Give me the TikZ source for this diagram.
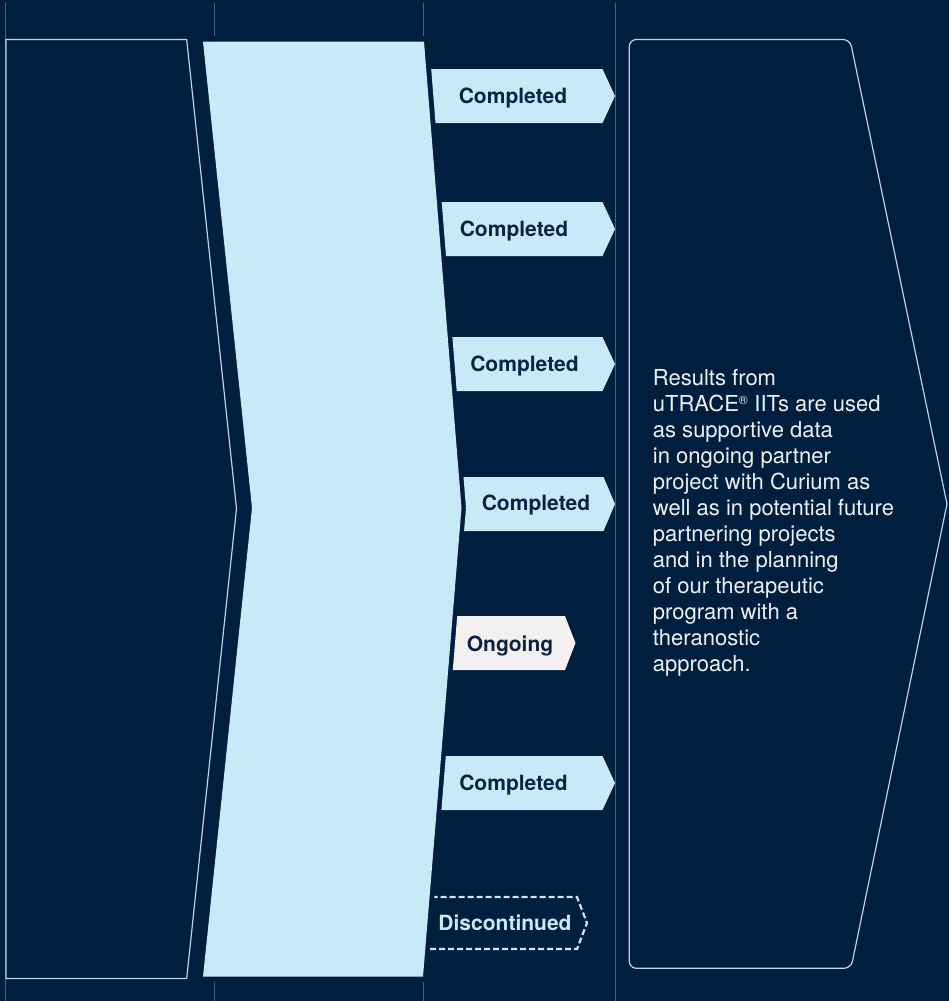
\documentclass[tikz,border=0pt]{standalone}
\usepackage{fontspec}
\setmainfont{TeX Gyre Heros}
\definecolor{bg}{HTML}{001E3D}
\definecolor{paleblue}{HTML}{C8E9F8}
\definecolor{outline}{HTML}{B2D7EE}
\definecolor{colline}{HTML}{46627F}
\definecolor{ink}{HTML}{0B2342}
\definecolor{offwhite}{HTML}{F3F1EF}
\definecolor{bodytext}{HTML}{EEF1F4}
\begin{document}
\begin{tikzpicture}[x=1pt,y=-1pt,
  colstyle/.style={draw=colline,line width=0.9pt},
  panelstyle/.style={draw=outline,line width=1.2pt,fill=bg,line join=miter},
  tagshape/.style={fill=paleblue},
  ongoingshape/.style={fill=offwhite},
  dashshape/.style={draw=paleblue,line width=2.2pt,dash pattern=on 6pt off 3pt},
  tagtext/.style={font=\fontsize{21}{25}\selectfont\bfseries,text=ink,inner sep=0pt,anchor=base},
  dashtext/.style={font=\fontsize{21}{25}\selectfont\bfseries,text=paleblue,inner sep=0pt,anchor=base},
  bodystyle/.style={font=\fontsize{22}{26}\selectfont,text=bodytext,align=left,inner sep=0pt,anchor=north west}]
\useasboundingbox (0,0) rectangle (949,1001);
\fill[bg] (0,0) rectangle (949,1001);
% column guide lines
\coordinate (c1t) at (5.5,3);   \coordinate (c1b) at (5.5,1001);
\coordinate (c2t) at (214.5,3); \coordinate (c2m) at (214.5,36);
\coordinate (c2n) at (214.5,982); \coordinate (c2b) at (214.5,1001);
\coordinate (c3t) at (423,3);   \coordinate (c3m) at (423,36);
\coordinate (c3n) at (423,982); \coordinate (c3b) at (423,1001);
\coordinate (c4t) at (615.3,3); \coordinate (c4b) at (615.3,1001);
\draw[colstyle] (c1t) -- (c1b);
\draw[colstyle] (c2t) -- (c2m);
\draw[colstyle] (c2n) -- (c2b);
\draw[colstyle] (c3t) -- (c3m);
\draw[colstyle] (c3n) -- (c3b);
\draw[colstyle] (c4t) -- (c4b);
% left panel
\draw[panelstyle] (6,39.5) -- (186.7,39.5) -- (236.5,508.5) -- (186.7,978.5) -- (6,978.5) -- cycle;
% big pale blue chevron
\fill[paleblue] (203,41.7) -- (424,41.7) -- (461.5,508) -- (423,976.7) -- (203,976.7) -- (252,508) -- cycle;
% tags
\fill[tagshape] (431.2,69) -- (602.5,69) -- (615,96) -- (602.5,123) -- (435.5,123) -- cycle;
\fill[tagshape] (441.7,202) -- (602.5,202) -- (615,229) -- (602.5,256) -- (446,256) -- cycle;
\fill[tagshape] (452.4,337) -- (602.5,337) -- (615,364) -- (602.5,391) -- (456.7,391) -- cycle;
\fill[tagshape] (463.5,477) -- (603.5,477) -- (615,504) -- (603.5,531) -- (464.1,531) -- (466,508) -- cycle;
\fill[ongoingshape] (457.2,616) -- (565,616) -- (575.5,643) -- (565,670) -- (452.8,670) -- cycle;
\fill[tagshape] (445.8,756) -- (602.5,756) -- (615,783) -- (602.5,810) -- (441.4,810) -- cycle;
\draw[dashshape] (430.1,949) -- (577,949) -- (587,923) -- (577,897) -- (434.3,897);
\node[tagtext] (t1) at (513,103.3) {Completed};
\node[tagtext] (t2) at (514,236.3) {Completed};
\node[tagtext] (t3) at (524.5,371.3) {Completed};
\node[tagtext] (t4) at (536,510.7) {Completed};
\node[tagtext] (t5) at (510,651) {Ongoing};
\node[tagtext] (t6) at (513.5,790.3) {Completed};
\node[dashtext] (t7) at (505,930) {Discontinued};
% right panel
\draw[draw=outline,line width=1.2pt,rounded corners=7pt,line cap=round]
  (947,504) -- (851,968.3) -- (629.3,968.3) -- (629.3,39.5) -- (850,39.5) -- (947,504);
\node[bodystyle] (results) at (652.7,369.5) {Results from\\
uTRACE\textsuperscript{\fontsize{12}{12}\selectfont ®} IITs are used\\
as supportive data\\
in ongoing partner\\
project with Curium as\\
well as in potential future\\
partnering projects\\
and in the planning\\
of our therapeutic\\
program with a\\
theranostic\\
approach.};
\end{tikzpicture}
\end{document}
